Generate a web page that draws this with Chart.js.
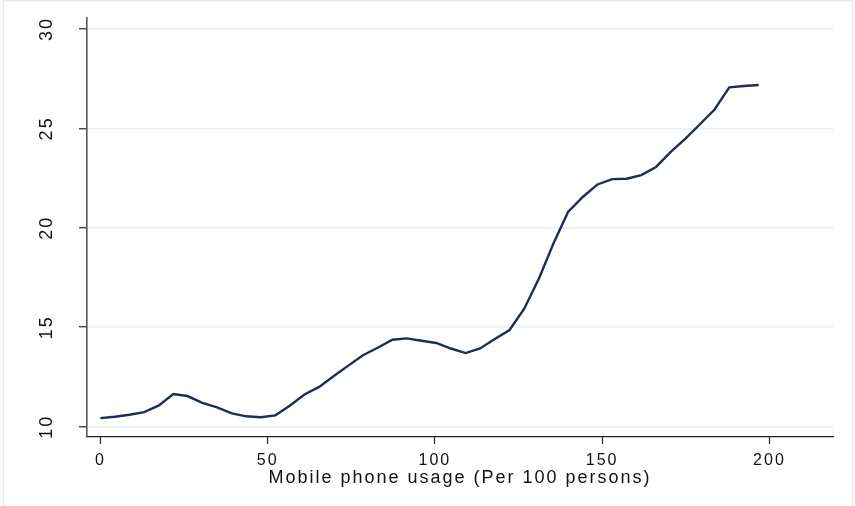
<!DOCTYPE html>
<html>
<head>
<meta charset="utf-8">
<script src="https://cdn.jsdelivr.net/npm/chart.js@4/dist/chart.umd.min.js"></script>
<style>
  html, body { margin: 0; padding: 0; background: #ffffff; }
  #wrap { width: 855px; height: 506px; position: relative; }
</style>
</head>
<body>
<div id="wrap"><canvas id="c" width="855" height="506"></canvas></div>
<script>
// Mobile phone usage (per 100 persons) — x values
const usage = [0, 4.3, 8.7, 13.1, 17.5, 21.8, 26.0, 30.5, 34.9, 39.3,
               43.6, 47.9, 52.3, 56.6, 61.0, 65.4, 69.8, 74.1, 78.5, 82.9,
               87.3, 91.6, 96.0, 100.4, 104.8, 109.2, 113.5, 117.9, 122.3, 126.7,
               131.1, 135.4, 139.8, 144.2, 148.6, 153.0, 157.3, 161.7, 166.1, 170.5,
               174.9, 179.3, 183.6, 188.0, 192.4, 196.8];
// Fitted outcome values — y values
const outcome = [10.43, 10.50, 10.60, 10.73, 11.07, 11.64, 11.54, 11.20, 10.97, 10.67,
                 10.52, 10.47, 10.57, 11.05, 11.62, 12.00, 12.55, 13.07, 13.59, 13.97,
                 14.37, 14.44, 14.32, 14.21, 13.93, 13.70, 13.93, 14.41, 14.86, 15.93,
                 17.45, 19.20, 20.80, 21.55, 22.18, 22.45, 22.47, 22.65, 23.06, 23.82,
                 24.48, 25.22, 25.95, 27.06, 27.13, 27.18];
const xTicks = [0, 50, 100, 150, 200];
const yTicks = [10, 15, 20, 25, 30];
const xTitle = 'Mobile phone usage (Per 100 persons)';

const points = usage.map((x, i) => ({ x: x, y: outcome[i] }));
const FONT = "'Liberation Sans', Arial, Helvetica, sans-serif";

const framePlugin = {
  id: 'frame',
  beforeDraw(chart) {
    const ctx = chart.ctx;
    ctx.save();
    ctx.fillStyle = '#ffffff';
    ctx.fillRect(0, 0, chart.width, chart.height);
    ctx.strokeStyle = '#e4ecef';
    ctx.lineWidth = 1.5;
    ctx.beginPath();
    ctx.moveTo(3.5, chart.height);
    ctx.lineTo(3.5, 0.75);
    ctx.lineTo(852.5, 0.75);
    ctx.lineTo(852.5, chart.height);
    ctx.stroke();
    ctx.restore();
    // the reference text is set wide; open it up a little
    ctx.letterSpacing = '2px';
  }
};

new Chart(document.getElementById('c'), {
  type: 'line',
  data: {
    datasets: [{
      data: points,
      borderColor: '#1f2c56',
      borderWidth: 2.4,
      pointRadius: 0,
      tension: 0,
      fill: false
    }]
  },
  options: {
    responsive: false,
    animation: false,
    devicePixelRatio: 1,
    layout: { padding: { left: 0, top: 18, right: 22, bottom: 0 } },
    plugins: { legend: { display: false }, tooltip: { enabled: false } },
    scales: {
      x: {
        type: 'linear',
        min: -4,
        max: 219,
        afterBuildTicks: s => { s.ticks = xTicks.map(v => ({ value: v })); },
        afterFit: s => { s.height = 69; s.paddingLeft = 0; s.paddingRight = 0; },
        border: { display: true, color: '#222222', width: 1.2 },
        grid: { drawOnChartArea: false, drawTicks: true, tickLength: 7, tickColor: '#222222', tickWidth: 1.2 },
        ticks: { color: '#111111', padding: 7, font: { family: FONT, size: 16 }, maxRotation: 0, autoSkip: false },
        title: { display: true, text: xTitle, color: '#111111', font: { family: FONT, size: 18 }, padding: { top: 0, bottom: 17 } }
      },
      y: {
        type: 'linear',
        min: 9.48,
        max: 30.55,
        afterBuildTicks: s => { s.ticks = yTicks.map(v => ({ value: v })); },
        afterFit: s => { s.width = 87; s.paddingTop = 0; s.paddingBottom = 0; },
        border: { display: true, color: '#555555', width: 1.6 },
        grid: { color: '#e6eef1', lineWidth: 1.5, drawTicks: true, tickLength: 8, tickColor: '#222222', tickWidth: 1.2 },
        ticks: { color: '#111111', minRotation: 90, maxRotation: 90, crossAlign: 'center', padding: 22,
                 font: { family: FONT, size: 18 }, autoSkip: false }
      }
    }
  },
  plugins: [framePlugin]
});
</script>
</body>
</html>
